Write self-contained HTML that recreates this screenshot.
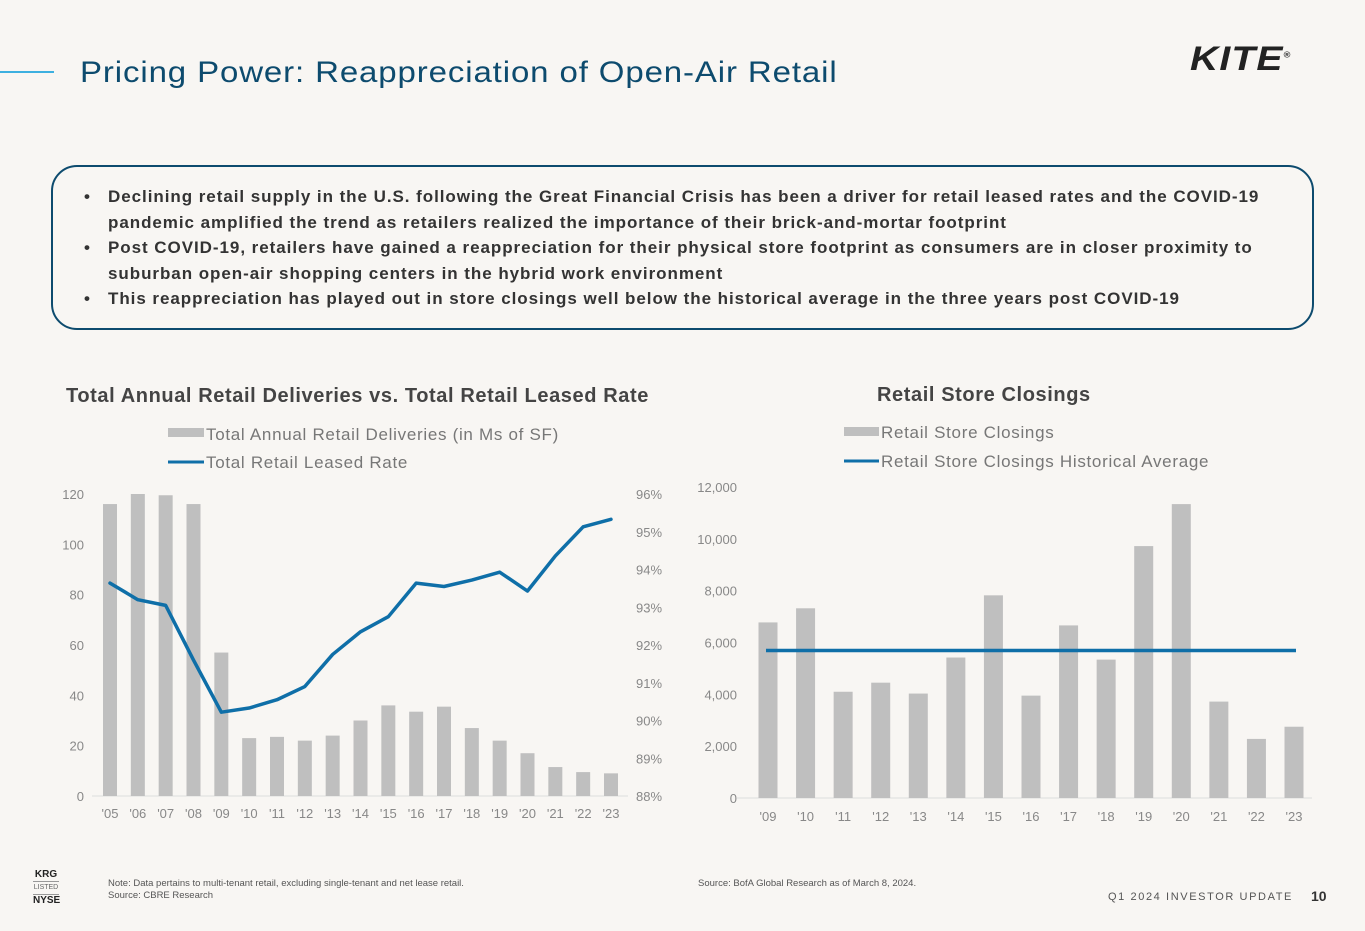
<!DOCTYPE html>
<html><head><meta charset="utf-8"><style>
body{margin:0;width:1365px;height:931px;background:#f8f6f3;font-family:"Liberation Sans",sans-serif;position:relative;overflow:hidden}
.abs{position:absolute}
.b{display:flex}.b span:first-child{flex:0 0 24px}
</style></head><body>
<div class="abs" style="left:0;top:71px;width:54px;height:2px;background:#3db0e0"></div>
<div class="abs" style="left:80px;top:56px;font-size:30px;color:#0d4b6e;letter-spacing:0.8px;transform:scaleX(1.1);transform-origin:left">Pricing Power: Reappreciation of Open-Air Retail</div>
<div class="abs" style="left:1190px;top:40px;font-size:34px;font-weight:bold;font-style:italic;color:#222;letter-spacing:1px;transform:scaleX(1.15);transform-origin:left">KITE<sup style="font-size:8px;font-style:normal">®</sup></div>
<div class="abs" style="left:51px;top:165px;width:1259px;height:161px;border:2px solid #0d4b6e;border-radius:26px;"></div>
<div class="abs" style="left:84px;top:184px;width:1205px;font-size:17px;font-weight:bold;color:#333;line-height:25.5px;letter-spacing:0.95px">
<div class="b"><span>•</span><span>Declining retail supply in the U.S. following the Great Financial Crisis has been a driver for retail leased rates and the COVID-19 pandemic amplified the trend as retailers realized the importance of their brick-and-mortar footprint</span></div>
<div class="b"><span>•</span><span>Post COVID-19, retailers have gained a reappreciation for their physical store footprint as consumers are in closer proximity to suburban open-air shopping centers in the hybrid work environment</span></div>
<div class="b"><span>•</span><span>This reappreciation has played out in store closings well below the historical average in the three years post COVID-19</span></div>
</div>
<svg class="abs" style="left:0;top:0" width="1365" height="931">
<g id="left"></g><g id="right"></g>
</svg>
<div class="abs" style="left:33px;top:869px;width:26px;text-align:center;color:#222;font-size:10px;font-weight:bold;line-height:12px">KRG<div style="border-top:1px solid #999;border-bottom:1px solid #999;font-size:7px;font-weight:normal;color:#666">LISTED</div>NYSE</div>
<div class="abs" style="left:108px;top:878px;font-size:9.5px;color:#555;line-height:12px">Note: Data pertains to multi-tenant retail, excluding single-tenant and net lease retail.<br>Source: CBRE Research</div>
<div class="abs" style="left:698px;top:878px;font-size:9.5px;color:#555">Source: BofA Global Research as of March 8, 2024.</div>
<div class="abs" style="left:1108px;top:891px;font-size:11px;color:#555;letter-spacing:1.6px">Q1 2024 INVESTOR UPDATE</div>
<div class="abs" style="left:1311px;top:888px;font-size:14px;font-weight:bold;color:#333">10</div>
<script>
const leftYears=["'05","'06","'07","'08","'09","'10","'11","'12","'13","'14","'15","'16","'17","'18","'19","'20","'21","'22","'23"];
const deliveries=[116,120,119.5,116,57,23,23.5,22,24,30,36,33.5,35.5,27,22,17,11.5,9.5,9];
const leasedRate=[93.64,93.2,93.05,91.6,90.22,90.33,90.55,90.9,91.75,92.35,92.75,93.64,93.55,93.72,93.93,93.43,94.36,95.13,95.33];
const leftTicks=[0,20,40,60,80,100,120];
const rightPctTicks=[88,89,90,91,92,93,94,95,96];
const rightYears=["'09","'10","'11","'12","'13","'14","'15","'16","'17","'18","'19","'20","'21","'22","'23"];
const closings=[6775,7320,4100,4450,4030,5420,7820,3950,6660,5340,9720,11340,3720,2280,2750];
const closingsAvg=5690;
const closingTicks=[0,2000,4000,6000,8000,10000,12000];
const NS='http://www.w3.org/2000/svg';
function mk(p,tag,a,txt){const e=document.createElementNS(NS,tag);for(const k in a)e.setAttribute(k,a[k]);if(txt!==undefined)e.textContent=txt;p.appendChild(e);return e;}
const L=document.getElementById('left'),R=document.getElementById('right');
const lx=i=>110+i*(611-110)/(leftYears.length-1);
const ly=v=>796-v*(302/120);
const lp=v=>796-(v-88)*(302/8);
let t=mk(L,'text',{x:66,y:402,'font-size':20,'font-weight':'bold',fill:'#444','letter-spacing':0.6},'Total Annual Retail Deliveries vs. Total Retail Leased Rate');
let e=mk(L,'rect',{x:168,y:428,width:36,height:9,fill:'#bfbfbf'});
t=mk(L,'text',{x:206,y:440,'font-size':17,fill:'#777','letter-spacing':0.7},'Total Annual Retail Deliveries (in Ms of SF)');
e=mk(L,'line',{x1:168,x2:204,y1:462,y2:462,stroke:'#0f6fa8','stroke-width':3});
t=mk(L,'text',{x:206,y:468,'font-size':17,fill:'#777','letter-spacing':0.7},'Total Retail Leased Rate');
leftTicks.forEach(v=>{const q=mk(L,'text',{x:84,y:ly(v)+5,'font-size':13,fill:'#888','text-anchor':'end'},v);});
rightPctTicks.forEach(v=>{const q=mk(L,'text',{x:636,y:lp(v)+5,'font-size':13,fill:'#888'},v+'%');});
e=mk(L,'line',{x1:92,x2:628,y1:796,y2:796,stroke:'#ddd'});
deliveries.forEach((v,i)=>{const b=mk(L,'rect',{x:lx(i)-7,y:ly(v),width:14,height:796-ly(v),fill:'#bfbfbf'});
const q=mk(L,'text',{x:lx(i),y:818,'font-size':13,fill:'#888','text-anchor':'middle'},leftYears[i]);});
e=mk(L,'polyline',{points:leasedRate.map((v,i)=>lx(i)+','+lp(v)).join(' '),fill:'none',stroke:'#0f6fa8','stroke-width':3.5,'stroke-linejoin':'round','stroke-linecap':'round'});
const rx=i=>768+i*(1294-768)/(rightYears.length-1);
const ry=v=>798-v*(311/12000);
t=mk(R,'text',{x:877,y:401,'font-size':20,'font-weight':'bold',fill:'#444','letter-spacing':0.6},'Retail Store Closings');
e=mk(R,'rect',{x:844,y:427,width:35,height:9,fill:'#bfbfbf'});
t=mk(R,'text',{x:881,y:438,'font-size':17,fill:'#777','letter-spacing':0.7},'Retail Store Closings');
e=mk(R,'line',{x1:844,x2:879,y1:461,y2:461,stroke:'#0f6fa8','stroke-width':3});
t=mk(R,'text',{x:881,y:467,'font-size':17,fill:'#777','letter-spacing':0.7},'Retail Store Closings Historical Average');
closingTicks.forEach(v=>{const q=mk(R,'text',{x:737,y:ry(v)+5,'font-size':13,fill:'#888','text-anchor':'end'},v.toLocaleString('en-US'));});
e=mk(R,'line',{x1:737,x2:1312,y1:798,y2:798,stroke:'#ddd'});
closings.forEach((v,i)=>{const b=mk(R,'rect',{x:rx(i)-9.5,y:ry(v),width:19,height:798-ry(v),fill:'#bfbfbf'});
const q=mk(R,'text',{x:rx(i),y:821,'font-size':13,fill:'#888','text-anchor':'middle'},rightYears[i]);});
e=mk(R,'line',{x1:rx(0)-2,x2:rx(rightYears.length-1)+2,y1:ry(closingsAvg),y2:ry(closingsAvg),stroke:'#0f6fa8','stroke-width':3.5});
</script>
</body></html>
